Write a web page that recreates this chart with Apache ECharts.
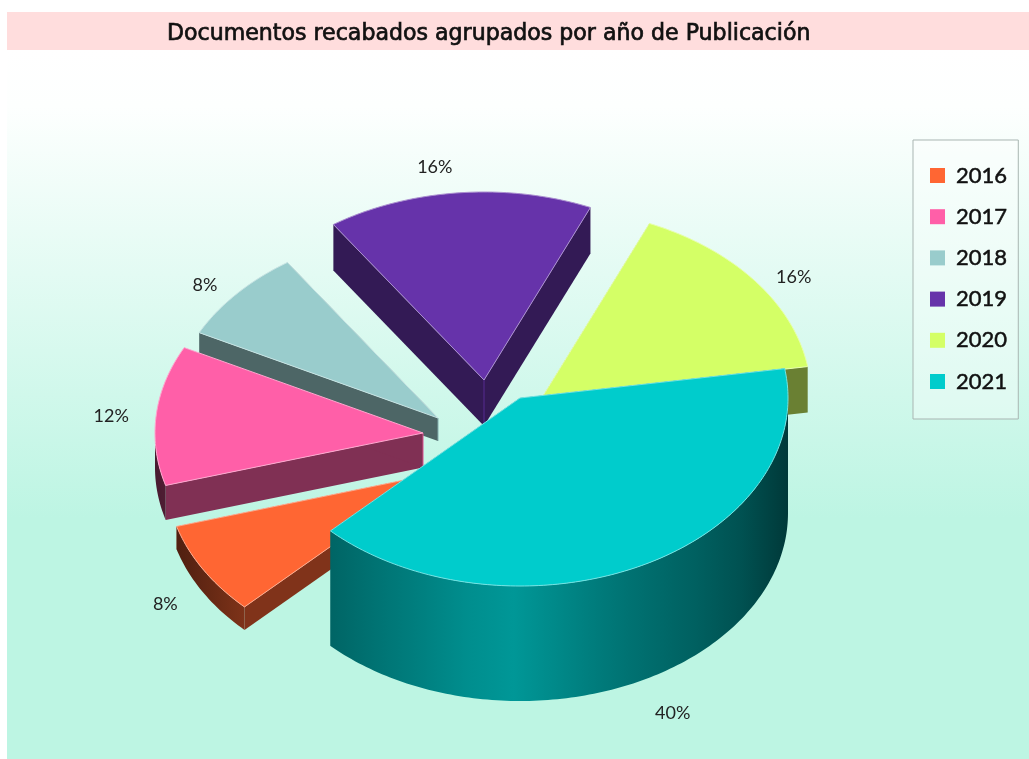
<!DOCTYPE html>
<html>
<head>
<meta charset="utf-8">
<title>Documentos recabados</title>
<style>
	html, body {margin: 0; padding: 0; background: #fff;}
	#echarts1 {width: 1029px; height: 759px;}
</style>
<script src="https://cdn.jsdelivr.net/npm/echarts@6/dist/echarts.min.js"></script>
</head>
<body>
<div id="echarts1"></div>
<script>
var years = ['2016', '2017', '2018', '2019', '2020', '2021'];
var shares = [8, 12, 8, 16, 16, 40];
var colors = ['#FF6633', '#FF5FA8', '#99CCCC', '#6633AA', '#D4FF66', '#00CCCC'];

// layout of the pie, in pixels
var pieX = 490, pieY = 432, rx = 268, ry = 188;
var startAngle = 135;
var depthPerPoint = 2.875;
var explodeX = [-56, -67, -52, -6, 53, 30];
var explodeY = [42, 1, -14, -52, -36, -34];
var labelNudgeX = [-38, -45, -32, -24, 39, 31];
var labelNudgeY = [11, 1, -8, -26, -4, 33];
var drawOrder = [4, 3, 1, 0, 2, 5]; //back slices first

var total = shares.reduce(function(a, b){ return a + b; }, 0);

function rim(cx, cy, deg, drop){
	var r = deg * Math.PI / 180;
	return [cx + rx * Math.cos(r), cy + ry * Math.sin(r) + (drop || 0)];
}

function darken(color, f){
	return echarts.color.lerp(f, ['#000000', color]);
}

// light on the round wall depends on where it faces
function wallLight(t){
	var pts = [[-1, 0.28], [-0.7, 0.5], [-0.05, 0.75], [0.35, 0.58], [0.8, 0.42], [1, 0.28]];
	for(var i = 1; i < pts.length; i++){
		if(t <= pts[i][0]){
			var k = (t - pts[i - 1][0]) / (pts[i][0] - pts[i - 1][0]);
			return pts[i - 1][1] + k * (pts[i][1] - pts[i - 1][1]);
		}
	}
	return pts[pts.length - 1][1];
}

function roundWall(cx, cy, a0, a1, depth, color){
	var from = -1, to = -1;
	[0, 360].forEach(function(base){
		var s = Math.max(a0, base), e = Math.min(a1, base + 180);
		if(s < e){ from = s; to = e; }
	});
	if(from < 0) return null;
	var top = [], bottom = [];
	for(var d = from; d < to; d += 1){
		top.push(rim(cx, cy, d));
		bottom.unshift(rim(cx, cy, d, depth));
	}
	top.push(rim(cx, cy, to));
	bottom.unshift(rim(cx, cy, to, depth));
	var xs = top.map(function(p){ return p[0]; });
	var xMin = Math.min.apply(null, xs), xMax = Math.max.apply(null, xs);
	var stops = [];
	for(var i = 0; i <= 10; i++){
		var x = xMin + (xMax - xMin) * i / 10;
		stops.push({offset: i / 10, color: darken(color, wallLight((x - cx) / rx))});
	}
	return {
		type: 'polygon',
		shape: {points: top.concat(bottom)},
		style: {fill: new echarts.graphic.LinearGradient(0, 0, 1, 0, stops)}
	};
}

function sideWall(cx, cy, deg, depth, color){
	var p = rim(cx, cy, deg);
	return {
		type: 'polygon',
		shape: {points: [[cx, cy], p, [p[0], p[1] + depth], [cx, cy + depth]]},
		style: {fill: darken(color, 0.5)}
	};
}

function renderSlice(params, api){
	var i = params.seriesIndex;
	var value = api.value(0);
	var before = shares.slice(0, i).reduce(function(a, b){ return a + b; }, 0);
	var a0 = startAngle + before / total * 360;
	var a1 = a0 + value / total * 360;
	var mid = (a0 + a1) / 2;
	var cx = pieX + explodeX[i], cy = pieY + explodeY[i];
	var depth = value * depthPerPoint;
	var color = colors[i];

	var children = [sideWall(cx, cy, a0, depth, color), sideWall(cx, cy, a1, depth, color)];
	children.push({
		type: 'line',
		shape: {x1: cx, y1: cy, x2: cx, y2: cy + depth},
		style: {stroke: darken(color, 0.85), lineWidth: 1}
	});
	var wall = roundWall(cx, cy, a0, a1, depth, color);
	if(wall) children.push(wall);

	var face = [[cx, cy]];
	for(var d = a0; d < a1; d += 1){
		face.push(rim(cx, cy, d));
	}
	face.push(rim(cx, cy, a1));
	children.push({
		type: 'polygon',
		shape: {points: face},
		style: {
			fill: color,
			stroke: echarts.color.lerp(0.45, [color, '#ffffff']),
			lineWidth: 1
		}
	});

	var sinMid = Math.sin(mid * Math.PI / 180);
	var edge = rim(cx, cy, mid, sinMid > 0 ? depth : 0);
	children.push({
		type: 'text',
		style: {
			x: edge[0] + labelNudgeX[i],
			y: edge[1] + labelNudgeY[i],
			text: Math.round(value / total * 100) + '%',
			fill: '#222',
			font: '18px "Lato", sans-serif',
			align: 'center',
			verticalAlign: 'middle'
		}
	});
	return {type: 'group', children: children};
}

function echart1(){
	var myChart = echarts.init(document.getElementById('echarts1'));
	var series = years.map(function(year, i){
		return {
			type: 'custom',
			name: year,
			coordinateSystem: 'none',
			z: 2 + drawOrder[i],
			silent: true,
			animation: false,
			itemStyle: {color: colors[i]},
			renderItem: renderSlice,
			data: [[shares[i]]]
		};
	});
	var option = {
		backgroundColor: '#ffffff',
		animation: false,
		title: {
			text: 'Documentos recabados agrupados por año de Publicación',
			left: 167,
			top: 23,
			padding: 0,
			textStyle: {
				color: '#111',
				fontSize: 22.1,
				fontWeight: 'normal',
				fontFamily: '"DejaVu Sans"',
				textBorderColor: '#111',
				textBorderWidth: 0.7
			}
		},
		legend: {
			orient: 'vertical',
			left: 913,
			top: 140,
			padding: [23, 11, 25, 17],
			itemWidth: 15,
			itemHeight: 15,
			itemGap: 16.2,
			icon: 'rect',
			selectedMode: false,
			backgroundColor: 'rgba(255,255,255,0.35)',
			borderColor: '#a9b5b2',
			borderWidth: 1,
			textStyle: {
				color: '#111',
				fontSize: 22,
				lineHeight: 22,
				fontFamily: '"Lato"',
				padding: [3, 0, 0, 6],
				textBorderColor: '#111',
				textBorderWidth: 0.5
			},
			data: years
		},
		graphic: [{
			type: 'rect',
			z: -2,
			shape: {x: 7, y: 50, width: 1022, height: 709},
			style: {
				fill: new echarts.graphic.LinearGradient(0, 0, 0, 1, [
					{offset: 0, color: '#ffffff'},
					{offset: 0.08, color: '#fdfffe'},
					{offset: 0.66, color: '#bdf5e3'},
					{offset: 1, color: '#bdf5e3'}
				])
			}
		}, {
			type: 'rect',
			z: -1,
			shape: {x: 7, y: 12, width: 1022, height: 38},
			style: {fill: '#ffdddd'}
		}],
		series: series
	};
	myChart.setOption(option);
	window.addEventListener("resize", function(){
		myChart.resize();
	});
}

echart1();
</script>
</body>
</html>
